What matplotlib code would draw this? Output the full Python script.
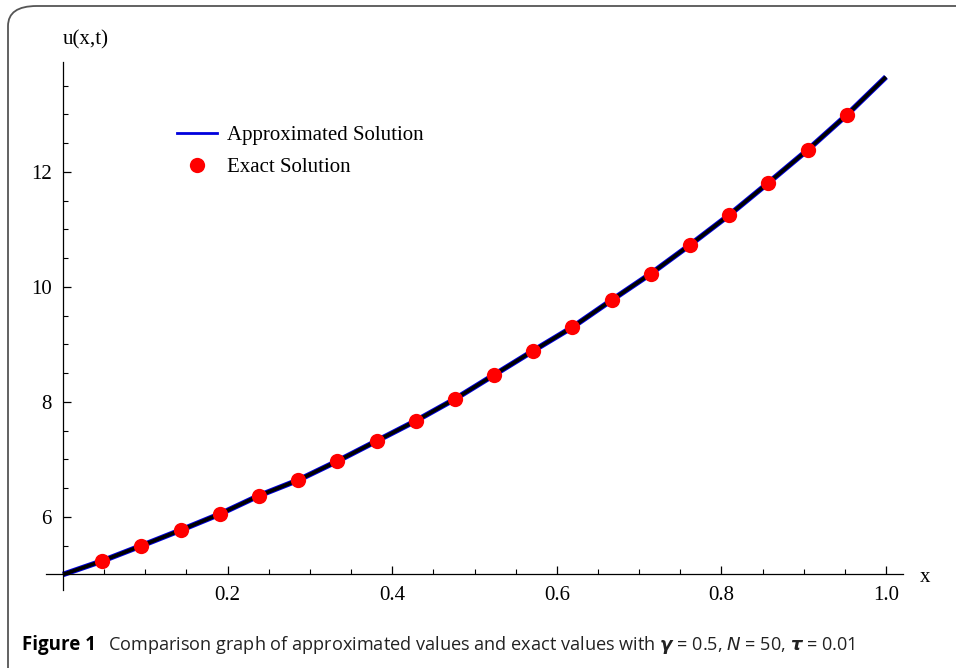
import matplotlib
matplotlib.use("Agg")
import matplotlib.pyplot as plt
from matplotlib.patches import FancyBboxPatch
from matplotlib.lines import Line2D
import numpy as np

# values
x_exact = [1/21, 2/21, 3/21, 4/21, 5/21, 6/21, 7/21, 8/21, 9/21, 10/21,
           11/21, 12/21, 13/21, 14/21, 15/21, 16/21, 17/21, 18/21, 19/21, 20/21]
u_exact = [5.235, 5.50, 5.77, 6.05, 6.37, 6.64, 6.97, 7.32, 7.67, 8.05,
           8.47, 8.89, 9.30, 9.77, 10.23, 10.73, 11.25, 11.81, 12.38, 12.99]
x_approx = [0.0] + x_exact + [1.0]
u_approx = [5.0] + u_exact + [13.65]

xticks = [0.2, 0.4, 0.6, 0.8, 1.0]
xticklabels = ["0.2", "0.4", "0.6", "0.8", "1.0"]
yticks = [6, 8, 10, 12]
yticklabels = ["6", "8", "10", "12"]

serif = "Liberation Serif"

fig = plt.figure(figsize=(9.56, 6.68), dpi=100)

# rounded frame, cut by the right and bottom edges
frame = FancyBboxPatch((8/956, -40/668), 1.1, 1 - 6/668 + 40/668,
                       boxstyle="round,pad=0,rounding_size=0.03",
                       transform=fig.transFigure, fill=False,
                       edgecolor="#555555", linewidth=1.3, clip_on=False)
fig.patches.append(frame)

ax = fig.add_axes([46/956, 78/668, 857/956, 528/668])
ax.set_xlim(-0.0207, 1.0207)
ax.set_ylim(4.73, 13.91)

ax.plot(x_approx, u_approx, color="#0000dd", lw=4.0, solid_capstyle="butt",
        zorder=2)
ax.plot(x_approx, u_approx, color="black", lw=2.6, solid_capstyle="butt", zorder=3)
ax.plot(x_exact, u_exact, "o", color="red", ms=11, mec="none", zorder=4)

for s in ["top", "right"]:
    ax.spines[s].set_visible(False)
ax.spines["left"].set_position(("data", 0))
ax.spines["bottom"].set_position(("data", 5))
ax.spines["left"].set_linewidth(0.9)
ax.spines["bottom"].set_linewidth(0.9)

ax.set_xticks(xticks)
ax.set_xticklabels(xticklabels)
ax.set_yticks(yticks)
ax.set_yticklabels(yticklabels)
ax.set_xticks(np.arange(0.05, 1.0001, 0.05), minor=True)
ax.set_yticks(np.arange(5.5, 13.6, 0.5), minor=True)
ax.tick_params(which="major", direction="in", length=6, width=0.9,
               labelsize=15, pad=8)
ax.tick_params(which="minor", direction="in", length=3.5, width=0.8)
for lab in ax.get_xticklabels() + ax.get_yticklabels():
    lab.set_fontfamily(serif)

fig.text(63/956, 1 - 40/668, "u(x,t)", family=serif, fontsize=15,
         ha="left", va="center")
fig.text(925/956, 1 - 577/668, "x", family=serif, fontsize=15,
         ha="center", va="center")

handles = [Line2D([], [], color="#0000dd", lw=2),
           Line2D([], [], ls="none", marker="o", color="red", ms=11, mec="none")]
leg = ax.legend(handles, ["Approximated Solution", "Exact Solution"],
                loc="upper left", bbox_to_anchor=(123/857, 1 - 55/528),
                frameon=False, prop={"family": serif, "size": 15},
                handlelength=1.9, handletextpad=0.5, labelspacing=0.6,
                borderaxespad=0)

fig.text(22/956, 1 - 645/668, "Figure 1", family="Open Sans",
         fontweight="bold", fontsize=13.5, ha="left", va="center")
fig.text(108/956, 1 - 645/668,
         r"Comparison graph of approximated values and exact values with "
         r"$\boldsymbol{\gamma}$ = 0.5, $N$ = 50, $\boldsymbol{\tau}$ = 0.01",
         family="Open Sans", fontsize=13.1, color="#222222",
         ha="left", va="center")

fig.savefig("out.png", dpi=100)
